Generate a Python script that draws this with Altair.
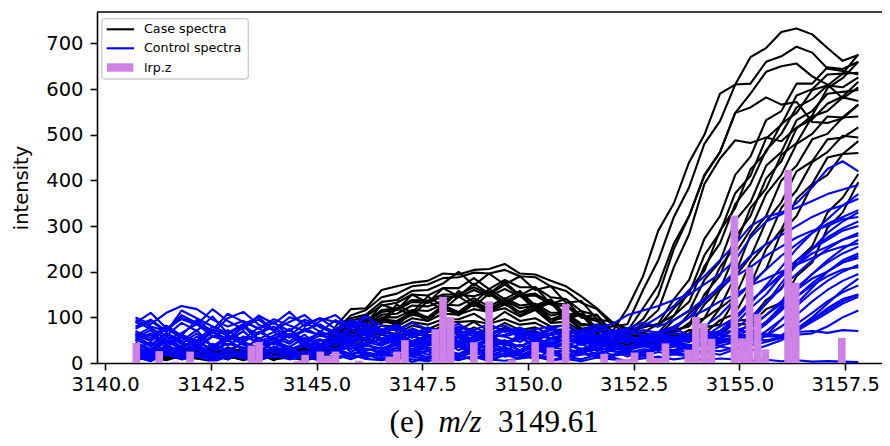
import altair as alt
import pandas as pd

# ---------------- data ----------------
mz_grid = [3140.72, 3141.08, 3141.45, 3141.81, 3142.17, 3142.54, 3142.90, 3143.27, 3143.63, 3143.99,
           3144.36, 3144.72, 3145.08, 3145.45, 3145.81, 3146.17, 3146.54, 3146.90, 3147.26, 3147.63,
           3147.99, 3148.36, 3148.72, 3149.08, 3149.45, 3149.81, 3150.17, 3150.54, 3150.90, 3151.26,
           3151.63, 3151.99, 3152.35, 3152.72, 3153.08, 3153.45, 3153.81, 3154.17, 3154.54, 3154.90,
           3155.26, 3155.63, 3155.99, 3156.35, 3156.72, 3157.08, 3157.44, 3157.81]

case_01 = [14, 26, 8, 22, 32, 16, 10, 28, 20, 6, 24, 18, 30, 48, 70, 74, 96, 92, 112, 100, 126, 112, 136, 118, 138, 120, 126, 104, 110, 82, 84, 68, 120, 190, 290, 350, 440, 500, 590, 610, 670, 690, 725, 733, 720, 690, 662, 675]
case_02 = [24, 12, 20, 32, 10, 26, 22, 14, 34, 20, 12, 28, 24, 55, 62, 102, 92, 128, 110, 146, 124, 158, 132, 162, 140, 158, 126, 140, 104, 114, 74, 80, 85, 160, 225, 320, 385, 480, 530, 610, 612, 660, 672, 693, 680, 645, 640, 632]
case_03 = [10, 20, 30, 16, 24, 8, 28, 18, 12, 26, 22, 10, 20, 40, 72, 62, 96, 82, 112, 92, 122, 104, 130, 108, 132, 104, 123, 90, 104, 70, 78, 48, 70, 120, 170, 262, 322, 412, 462, 548, 590, 638, 650, 656, 628, 610, 580, 604]
case_04 = [20, 32, 14, 24, 36, 22, 28, 12, 24, 32, 16, 26, 36, 60, 92, 88, 128, 116, 150, 132, 164, 146, 174, 152, 178, 148, 166, 130, 140, 100, 106, 66, 70, 96, 148, 250, 322, 410, 462, 548, 560, 582, 566, 572, 528, 526, 536, 566]
case_05 = [8, 22, 28, 12, 20, 30, 10, 24, 16, 28, 14, 22, 26, 52, 58, 96, 87, 120, 104, 136, 116, 146, 124, 152, 128, 148, 118, 132, 96, 106, 68, 72, 60, 86, 116, 210, 282, 392, 448, 488, 482, 494, 486, 516, 534, 568, 584, 616]
case_06 = [28, 16, 24, 36, 22, 12, 32, 26, 18, 30, 24, 34, 22, 72, 104, 116, 144, 152, 168, 172, 186, 188, 198, 196, 204, 190, 188, 168, 158, 132, 118, 84, 65, 78, 86, 140, 182, 272, 322, 412, 452, 532, 552, 612, 612, 648, 644, 660]
case_07 = [12, 24, 34, 18, 14, 28, 22, 32, 16, 24, 36, 18, 28, 80, 118, 120, 160, 168, 176, 180, 196, 194, 204, 206, 217, 196, 194, 180, 168, 146, 120, 90, 70, 82, 80, 120, 152, 236, 286, 372, 410, 492, 522, 586, 600, 632, 634, 636]
case_08 = [16, 10, 22, 28, 14, 20, 8, 24, 30, 12, 20, 26, 14, 42, 60, 62, 82, 80, 98, 92, 108, 106, 118, 112, 120, 102, 116, 88, 90, 70, 66, 48, 50, 62, 66, 104, 134, 212, 262, 348, 392, 466, 502, 560, 578, 608, 604, 626]
case_09 = [22, 30, 14, 10, 26, 32, 18, 16, 28, 22, 10, 24, 30, 64, 92, 102, 126, 132, 150, 148, 164, 164, 186, 162, 182, 166, 166, 144, 140, 114, 104, 70, 55, 66, 60, 94, 114, 182, 222, 312, 352, 432, 462, 532, 552, 590, 594, 598]
case_10 = [12, 18, 26, 32, 16, 12, 28, 20, 10, 30, 22, 16, 24, 54, 78, 82, 106, 108, 126, 124, 136, 150, 146, 156, 134, 152, 122, 136, 102, 108, 72, 70, 60, 50, 66, 70, 108, 138, 210, 256, 340, 382, 456, 482, 540, 552, 582, 574]
case_11 = [28, 20, 12, 22, 30, 18, 24, 10, 20, 26, 32, 14, 22, 46, 74, 64, 98, 86, 116, 98, 126, 108, 134, 114, 136, 110, 128, 96, 108, 74, 82, 48, 50, 56, 50, 72, 80, 128, 162, 240, 292, 370, 412, 480, 502, 540, 538, 566]
case_12 = [14, 30, 20, 26, 12, 34, 18, 28, 22, 14, 30, 24, 18, 58, 86, 92, 116, 120, 138, 137, 150, 150, 166, 150, 172, 148, 152, 132, 128, 104, 96, 64, 65, 54, 66, 64, 88, 98, 160, 196, 280, 322, 400, 432, 490, 502, 538, 540]
case_13 = [10, 16, 24, 12, 20, 28, 14, 8, 22, 18, 10, 26, 16, 38, 56, 56, 74, 72, 90, 84, 96, 96, 108, 88, 112, 92, 98, 80, 82, 62, 62, 40, 45, 50, 44, 60, 64, 98, 122, 190, 232, 310, 352, 420, 442, 490, 494, 516]
case_14 = [20, 12, 28, 18, 24, 10, 30, 22, 16, 24, 14, 30, 20, 50, 72, 76, 100, 100, 116, 114, 128, 126, 142, 124, 142, 126, 130, 110, 110, 86, 82, 52, 55, 46, 60, 54, 72, 74, 120, 146, 220, 262, 340, 378, 440, 462, 498, 494]
case_15 = [6, 14, 20, 10, 24, 16, 8, 22, 12, 18, 24, 8, 16, 34, 50, 50, 68, 64, 82, 74, 88, 90, 92, 86, 96, 84, 88, 72, 74, 56, 56, 36, 40, 50, 40, 56, 50, 78, 84, 140, 172, 250, 292, 360, 392, 450, 458, 486]
case_16 = [24, 18, 10, 30, 16, 22, 28, 14, 24, 20, 32, 18, 26, 56, 82, 88, 112, 116, 134, 132, 146, 144, 160, 146, 162, 146, 148, 128, 124, 100, 92, 62, 60, 50, 66, 56, 72, 64, 94, 108, 170, 206, 286, 322, 390, 412, 458, 460]
case_17 = [12, 8, 18, 14, 10, 20, 16, 6, 14, 10, 18, 12, 10, 30, 46, 44, 62, 56, 72, 66, 82, 72, 90, 70, 88, 72, 78, 62, 68, 48, 52, 32, 35, 44, 36, 50, 46, 60, 66, 92, 96, 138, 162, 224, 256, 330, 362, 414]
case_18 = [18, 26, 14, 22, 30, 12, 20, 26, 18, 10, 22, 28, 14, 44, 66, 68, 90, 88, 106, 100, 116, 110, 128, 112, 128, 112, 118, 96, 98, 76, 74, 50, 50, 56, 50, 60, 56, 70, 64, 86, 84, 118, 132, 190, 220, 296, 330, 396]
case_19 = [8, 12, 6, 16, 10, 4, 14, 10, 18, 8, 12, 6, 12, 26, 42, 38, 54, 50, 66, 58, 74, 62, 78, 64, 78, 62, 70, 54, 60, 42, 46, 30, 35, 46, 42, 68, 84, 150, 192, 276, 322, 404, 442, 514, 542, 602, 624, 660]
case_20 = [26, 14, 32, 20, 28, 16, 34, 24, 12, 28, 20, 34, 24, 68, 98, 106, 134, 138, 158, 160, 174, 200, 170, 196, 172, 190, 160, 168, 132, 136, 96, 90, 75, 66, 86, 104, 158, 202, 290, 340, 424, 462, 524, 548, 598, 608, 634, 676]

control_01 = [100, 85, 110, 125, 118, 95, 80, 92, 75, 88, 70, 95, 82, 68, 90, 75, 62, 78, 55, 70, 64, 72, 58, 66, 74, 56, 68, 62, 72, 65, 78, 85, 105, 115, 125, 138, 150, 172, 195, 225, 275, 310, 325, 350, 385, 425, 442, 420]
control_02 = [70, 55, 82, 60, 95, 68, 52, 78, 64, 90, 58, 72, 85, 62, 55, 80, 66, 50, 72, 58, 64, 48, 70, 55, 62, 74, 52, 66, 58, 60, 70, 62, 68, 80, 100, 125, 160, 190, 225, 260, 300, 320, 330, 340, 355, 370, 380, 390]
control_03 = [55, 72, 40, 62, 48, 80, 58, 45, 68, 52, 75, 44, 60, 70, 50, 64, 48, 60, 42, 55, 62, 45, 52, 66, 40, 58, 50, 62, 46, 55, 60, 52, 48, 58, 62, 75, 100, 135, 170, 200, 235, 260, 280, 300, 320, 335, 345, 360]
control_04 = [45, 30, 58, 42, 65, 35, 50, 28, 55, 40, 62, 36, 48, 55, 30, 46, 38, 52, 30, 45, 40, 55, 34, 48, 42, 36, 50, 44, 38, 52, 40, 46, 35, 50, 42, 55, 60, 80, 105, 140, 175, 205, 235, 260, 285, 305, 320, 335]
control_05 = [35, 22, 48, 30, 40, 18, 52, 28, 36, 45, 25, 40, 32, 20, 44, 30, 26, 40, 22, 34, 30, 44, 20, 36, 28, 40, 24, 34, 30, 42, 26, 36, 30, 40, 34, 45, 50, 58, 80, 100, 135, 165, 195, 225, 250, 275, 295, 310]
control_06 = [25, 12, 30, 20, 38, 15, 28, 22, 10, 32, 18, 26, 14, 30, 20, 24, 15, 28, 20, 12, 26, 18, 30, 14, 22, 16, 28, 20, 12, 24, 30, 18, 26, 22, 30, 28, 36, 44, 55, 75, 100, 130, 165, 195, 225, 250, 270, 285]
control_07 = [90, 75, 60, 88, 70, 102, 65, 80, 95, 72, 60, 85, 98, 75, 88, 66, 70, 58, 76, 62, 55, 70, 64, 50, 72, 60, 66, 54, 62, 70, 58, 66, 72, 60, 68, 55, 64, 58, 66, 72, 80, 105, 135, 165, 195, 220, 240, 255]
control_08 = [50, 65, 42, 58, 35, 60, 48, 70, 40, 55, 62, 45, 52, 38, 60, 50, 44, 56, 38, 50, 46, 58, 40, 52, 48, 36, 54, 42, 50, 46, 38, 52, 44, 56, 48, 40, 52, 46, 55, 50, 60, 85, 115, 145, 175, 200, 220, 235]
control_09 = [40, 28, 52, 36, 45, 30, 58, 40, 25, 48, 35, 55, 42, 30, 50, 38, 32, 44, 28, 40, 36, 48, 30, 38, 42, 28, 46, 34, 40, 30, 44, 36, 32, 42, 38, 46, 40, 35, 44, 50, 48, 70, 95, 125, 155, 180, 200, 215]
control_10 = [30, 18, 38, 26, 20, 42, 28, 15, 35, 24, 30, 20, 36, 28, 18, 32, 22, 34, 18, 28, 24, 36, 20, 30, 26, 16, 32, 24, 28, 20, 34, 26, 22, 30, 28, 36, 32, 40, 38, 46, 52, 60, 80, 105, 135, 160, 180, 195]
control_11 = [60, 78, 50, 66, 85, 58, 72, 48, 64, 80, 55, 70, 62, 50, 74, 60, 54, 66, 48, 60, 56, 68, 50, 62, 58, 46, 64, 52, 60, 56, 48, 62, 54, 50, 58, 52, 60, 55, 48, 56, 52, 58, 60, 85, 110, 135, 155, 170]
control_12 = [18, 8, 25, 14, 30, 10, 20, 16, 28, 12, 22, 8, 18, 26, 12, 20, 10, 22, 14, 8, 18, 12, 24, 10, 16, 20, 8, 18, 14, 22, 12, 16, 20, 14, 24, 18, 22, 28, 26, 34, 38, 46, 55, 70, 90, 110, 130, 145]
control_13 = [95, 80, 70, 100, 85, 72, 108, 90, 76, 96, 82, 70, 92, 105, 78, 88, 72, 80, 66, 74, 62, 78, 68, 60, 74, 66, 58, 72, 64, 70, 60, 68, 74, 62, 58, 66, 60, 54, 62, 58, 52, 60, 56, 62, 65, 80, 100, 115]
control_14 = [62, 48, 75, 55, 40, 68, 52, 82, 46, 60, 72, 50, 66, 44, 58, 70, 52, 45, 60, 48, 55, 42, 58, 50, 46, 54, 40, 52, 48, 56, 44, 50, 55, 48, 52, 58, 54, 60, 56, 62, 58, 64, 60, 68, 70, 66, 72, 70]
control_15 = [12, 5, 18, 8, 15, 4, 20, 10, 6, 16, 8, 14, 5, 12, 18, 9, 6, 14, 8, 4, 12, 6, 16, 8, 5, 10, 14, 6, 9, 4, 12, 8, 6, 10, 14, 8, 12, 6, 10, 8, 5, 7, 4, 6, 3, 4, 3, 2]
control_16 = [48, 62, 35, 55, 42, 70, 38, 58, 46, 30, 64, 52, 40, 68, 45, 56, 40, 52, 36, 48, 58, 42, 34, 50, 44, 56, 38, 46, 52, 40, 48, 58, 50, 44, 54, 48, 56, 60, 70, 95, 130, 170, 210, 250, 285, 315, 345, 370]
control_17 = [32, 45, 24, 38, 50, 28, 42, 34, 20, 46, 30, 40, 26, 48, 36, 28, 34, 26, 40, 30, 22, 38, 28, 42, 32, 24, 36, 30, 44, 26, 34, 38, 28, 36, 32, 40, 38, 44, 48, 55, 65, 90, 125, 160, 195, 225, 250, 270]
control_18 = [75, 92, 68, 115, 98, 80, 66, 85, 100, 72, 90, 105, 78, 64, 95, 82, 68, 76, 60, 72, 66, 56, 70, 62, 58, 68, 54, 64, 72, 60, 56, 66, 58, 52, 62, 56, 50, 58, 54, 48, 52, 50, 55, 75, 100, 130, 160, 185]
control_19 = [28, 10, 34, 18, 40, 22, 8, 30, 16, 36, 24, 12, 32, 20, 38, 14, 26, 10, 30, 18, 34, 12, 28, 20, 36, 14, 24, 30, 16, 32, 20, 28, 14, 26, 34, 20, 30, 24, 36, 30, 42, 60, 95, 130, 165, 200, 225, 240]
control_20 = [58, 40, 66, 48, 72, 36, 60, 52, 78, 44, 62, 38, 70, 54, 42, 66, 48, 60, 40, 56, 34, 62, 46, 58, 38, 64, 44, 52, 60, 40, 58, 48, 62, 44, 56, 50, 64, 58, 70, 85, 120, 150, 190, 215, 250, 270, 290, 300]
control_21 = [42, 26, 50, 30, 58, 38, 22, 46, 34, 54, 28, 44, 36, 52, 24, 40, 30, 46, 26, 38, 48, 28, 42, 32, 50, 26, 40, 34, 46, 30, 38, 44, 28, 40, 34, 46, 38, 50, 44, 56, 75, 105, 130, 160, 185, 200, 220, 230]
control_22 = [80, 95, 70, 105, 88, 65, 98, 112, 84, 72, 100, 90, 68, 94, 80, 104, 70, 84, 62, 78, 70, 86, 64, 76, 82, 66, 74, 80, 62, 72, 84, 70, 76, 88, 80, 94, 115, 140, 165, 190, 210, 235, 255, 275, 290, 300, 315, 320]
control_23 = [15, 4, 22, 8, 18, 2, 14, 24, 6, 16, 10, 26, 4, 18, 8, 20, 6, 16, 2, 12, 20, 8, 14, 4, 18, 10, 22, 6, 14, 8, 18, 12, 4, 16, 10, 20, 14, 24, 18, 30, 26, 38, 50, 70, 95, 115, 135, 150]
control_24 = [52, 36, 64, 44, 30, 58, 48, 70, 38, 56, 42, 62, 34, 50, 66, 40, 54, 38, 60, 44, 50, 36, 58, 46, 40, 62, 48, 36, 56, 42, 52, 60, 46, 54, 68, 80, 100, 115, 135, 150, 170, 185, 200, 215, 230, 245, 255, 262]
control_25 = [30, 16, 40, 22, 34, 12, 28, 44, 20, 32, 24, 38, 14, 30, 42, 22, 18, 34, 24, 12, 30, 20, 36, 16, 28, 22, 38, 18, 30, 24, 14, 32, 26, 20, 34, 28, 40, 36, 48, 58, 90, 130, 175, 215, 250, 285, 310, 330]
control_26 = [66, 50, 80, 58, 44, 72, 62, 86, 52, 68, 46, 76, 60, 54, 82, 64, 50, 62, 44, 58, 40, 56, 48, 60, 42, 52, 58, 38, 54, 46, 60, 42, 50, 56, 44, 52, 48, 58, 50, 44, 54, 48, 56, 75, 95, 120, 140, 150]
control_27 = [20, 6, 28, 12, 22, 8, 30, 14, 4, 24, 16, 10, 26, 8, 18, 12, 22, 8, 16, 26, 10, 18, 6, 24, 14, 20, 8, 28, 12, 18, 22, 14, 26, 18, 30, 24, 36, 48, 70, 100, 135, 165, 190, 215, 240, 255, 270, 280]
control_28 = [88, 110, 76, 96, 84, 118, 92, 74, 104, 86, 112, 80, 98, 90, 76, 100, 82, 70, 88, 74, 64, 80, 72, 86, 68, 78, 62, 76, 84, 66, 74, 70, 62, 72, 66, 76, 60, 70, 64, 72, 68, 90, 120, 145, 170, 190, 205, 210]

bar_mz = [3140.74, 3141.28, 3141.65, 3142.01, 3142.55, 3143.46, 3143.64, 3144.55, 3144.73, 3145.09,
          3145.27, 3145.45, 3146.00, 3146.72, 3146.90, 3147.09, 3147.81, 3147.99, 3148.17, 3148.72,
          3149.08, 3149.62, 3150.17, 3150.53, 3150.71, 3150.89, 3151.80, 3152.16, 3152.34, 3152.52,
          3152.89, 3153.07, 3153.25, 3153.79, 3153.97, 3154.16, 3154.34, 3154.88, 3155.06, 3155.24,
          3155.43, 3155.61, 3156.15, 3156.33, 3157.42]
bar_lrp = [44, 26, 3, 25, 4, 38, 46, 4, 18, 25,
           16, 25, 5, 14, 25, 50, 74, 145, 101, 45,
           135, 8, 46, 34, 3, 129, 20, 8, 9, 23,
           24, 11, 43, 29, 101, 87, 53, 323, 54, 210,
           107, 30, 423, 176, 55]

x_ticks = [3140.0, 3142.5, 3145.0, 3147.5, 3150.0, 3152.5, 3155.0, 3157.5]
y_ticks = [0, 100, 200, 300, 400, 500, 600, 700]
legend_labels = ["Case spectra", "Control spectra", "lrp.z"]
caption_parts = ["(e)", "m/z", "3149.61"]
y_title = "intensity"

case_series = [case_01, case_02, case_03, case_04, case_05, case_06, case_07, case_08, case_09, case_10,
               case_11, case_12, case_13, case_14, case_15, case_16, case_17, case_18, case_19, case_20]
control_series = [control_01, control_02, control_03, control_04, control_05, control_06, control_07,
                  control_08, control_09, control_10, control_11, control_12, control_13, control_14,
                  control_15, control_16, control_17, control_18, control_19, control_20, control_21,
                  control_22, control_23, control_24, control_25, control_26, control_27, control_28]

# ---------------- tables ----------------
def long_table(series_list, prefix):
    rows = []
    for i, vals in enumerate(series_list):
        if len(vals) != len(mz_grid):
            raise ValueError(f"{prefix}{i+1} has {len(vals)} values")
        for x, v in zip(mz_grid, vals):
            rows.append({"mz": x, "intensity": v, "spectrum": f"{prefix}{i+1:02d}"})
    return pd.DataFrame(rows)

BIN = 0.1813  # width of one m/z bin of the lrp.z bars
case_df = long_table(case_series, "case_")
control_df = long_table(control_series, "control_")
bar_df = pd.DataFrame({"mz": bar_mz, "intensity": bar_lrp})
bar_df["lo"] = bar_df["mz"] - BIN / 2
bar_df["hi"] = bar_df["mz"] + BIN / 2
one_row = pd.DataFrame({"k": [0]})

# ---------------- styling ----------------
W, H = 785, 351
PURPLE = "#cf82e5"
BLUE = "#0000ff"
SANS = "DejaVu Sans"
SERIF = "Liberation Serif"
LW = 2.1

x_axis = alt.Axis(values=x_ticks, format=".1f", title="", labelFont=SANS, labelFontSize=19.5,
                  labelColor="black", tickSize=7, tickWidth=1.6, tickColor="black",
                  domainColor="black", domainWidth=1.6, grid=False, labelPadding=5,
                  labelFlush=False, labelOverlap=False)
y_axis = alt.Axis(values=y_ticks, title=y_title, titleFont=SANS, titleFontSize=19.5,
                  titleFontWeight="normal", titleColor="black", titleX=-70, titleY=H / 2,
                  titleAngle=270, titleBaseline="alphabetic", titleAlign="center",
                  labelFont=SANS, labelFontSize=19.5, labelColor="black",
                  tickSize=7, tickWidth=1.6, tickColor="black", domainColor="black",
                  domainWidth=1.6, grid=False, labelPadding=7)

x_scale = alt.Scale(domain=[3139.81, 3158.37], nice=False, zero=False)
y_scale = alt.Scale(domain=[0, 769], nice=False)
x_enc = alt.X("mz:Q", scale=x_scale, axis=x_axis)
y_enc = alt.Y("intensity:Q", scale=y_scale, axis=y_axis)

case_layer = alt.Chart(case_df).mark_line(color="black", strokeWidth=LW, strokeJoin="round").encode(
    x=x_enc, y=y_enc, detail="spectrum:N")
control_layer = alt.Chart(control_df).mark_line(color=BLUE, strokeWidth=LW, strokeJoin="round").encode(
    x=x_enc, y=y_enc, detail="spectrum:N")
bar_layer = alt.Chart(bar_df).mark_rect(color=PURPLE).encode(
    x=alt.X("lo:Q", scale=x_scale, axis=x_axis), x2="hi:Q",
    y=y_enc, y2=alt.datum(0))

top_spine = alt.Chart(one_row).mark_rule(color="black", strokeWidth=1.6).encode(
    x=alt.value(0), x2=alt.value(W), y=alt.value(0))

# legend (matplotlib style, inside upper left)
legend_box = alt.Chart(one_row).mark_rect(fill="white", fillOpacity=0.8, stroke="#cccccc",
                                          strokeWidth=1.3, cornerRadius=3).encode(
    x=alt.value(4.7), x2=alt.value(151.3), y=alt.value(6.7), y2=alt.value(67))
leg_case = alt.Chart(one_row).mark_rule(color="black", strokeWidth=LW).encode(
    x=alt.value(9.7), x2=alt.value(37), y=alt.value(17.3))
leg_control = alt.Chart(one_row).mark_rule(color=BLUE, strokeWidth=LW).encode(
    x=alt.value(9.7), x2=alt.value(37), y=alt.value(36.3))
leg_patch = alt.Chart(one_row).mark_rect(color=PURPLE).encode(
    x=alt.value(10), x2=alt.value(36.3), y=alt.value(51.3), y2=alt.value(59.7))
leg_texts = [
    alt.Chart(one_row).mark_text(align="left", baseline="middle", font=SANS, fontSize=12.7,
                                 color="black").encode(
        x=alt.value(47), y=alt.value(yy), text=alt.value(lbl))
    for lbl, yy in zip(legend_labels, [17.3, 36.3, 55.7])
]

# caption below the plot
cap_a = alt.Chart(one_row).mark_text(align="right", baseline="alphabetic", font=SERIF, fontSize=31,
                                     color="black").encode(
    x=alt.value(327), y=alt.value(420), text=alt.value(caption_parts[0]))
cap_b = alt.Chart(one_row).mark_text(align="center", baseline="alphabetic", font=SERIF, fontSize=31,
                                     fontStyle="italic", color="black").encode(
    x=alt.value(363), y=alt.value(420), text=alt.value(caption_parts[1]))
cap_c = alt.Chart(one_row).mark_text(align="left", baseline="alphabetic", font=SERIF, fontSize=31,
                                     color="black").encode(
    x=alt.value(401), y=alt.value(420), text=alt.value(caption_parts[2]))

chart = alt.layer(
    case_layer, control_layer, bar_layer, top_spine,
    legend_box, leg_case, leg_control, leg_patch, *leg_texts,
    cap_a, cap_b, cap_c,
).properties(
    width=W, height=H,
    padding={"left": 89, "top": 4, "right": 0, "bottom": 75},
    autosize=alt.AutoSizeParams(type="none"),
    background="white",
).configure_view(strokeWidth=0)

chart.save("out.html", embed_options={"renderer": "svg", "actions": False})
